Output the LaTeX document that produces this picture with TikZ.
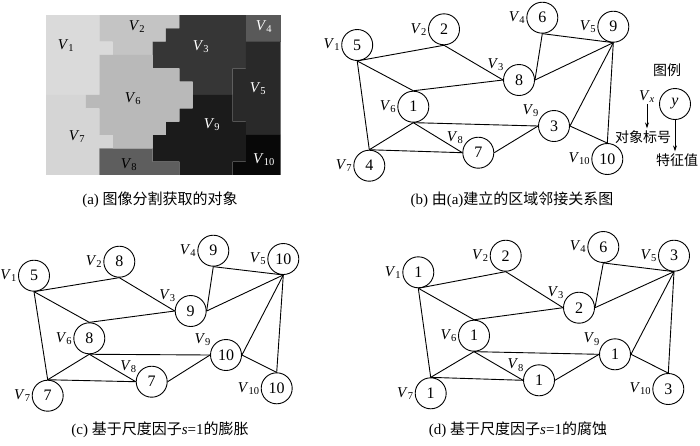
\documentclass[tikz,border=0pt]{standalone}
\usepackage{fontspec}
\setmainfont{Liberation Serif}
\newfontfamily\cjk{Noto Sans CJK SC}
\usetikzlibrary{positioning,arrows.meta}

\definecolor{rOne}{gray}{0.855}
\definecolor{rTwo}{gray}{0.77}
\definecolor{rThree}{gray}{0.21}
\definecolor{rFour}{gray}{0.35}
\definecolor{rFive}{gray}{0.16}
\definecolor{rSix}{gray}{0.725}
\definecolor{rSeven}{gray}{0.835}
\definecolor{rEight}{gray}{0.37}
\definecolor{rNine}{gray}{0.105}
\definecolor{rTen}{gray}{0.03}

\newcommand{\vl}[1]{\textit{V}\textsubscript{#1}}

\tikzset{
  vnode/.style={circle, draw, line width=0.9pt, minimum size=31pt, inner sep=0pt,
    font=\fontsize{16}{16}\selectfont},
  vlab/.style={inner sep=1pt, font=\fontsize{15}{15}\selectfont},
  link/.style={line width=0.9pt},
  captxt/.style={inner sep=2pt, font=\fontsize{14}{16}\selectfont},
  subcap/.style={captxt, font=\fontsize{15}{17}\selectfont},
}

\begin{document}
\begin{tikzpicture}[x=1pt, y=-1pt]
    \useasboundingbox (0,0) rectangle (700,445);

    % Panel (a): regions from the segmentation, on a grid of blocks
    \begin{scope}[shift={(46,15)}, x=13.33pt, y=-13.33pt]
        \def\rim{17.6}
        \fill[rOne] (0,0) -- (4,0) -- (4,2) -- (5,2) -- (5,3) -- (4,3) -- (4,6) -- (0,6) -- cycle;
        \fill[rSeven] (0,6) -- (3,6) -- (3,7) -- (4,7) -- (4,9) -- (5,9) -- (5,10) -- (4,10) -- (4,12) -- (0,12) -- cycle;
        \fill[rTwo] (4,0) -- (10,0) -- (10,1) -- (9,1) -- (9,2) -- (8,2) -- (8,3) -- (5,3) -- (5,2) -- (4,2) -- cycle;
        \fill[rThree] (10,0) -- (15,0) -- (15,4) -- (14,4) -- (14,6) -- (11,6) -- (11,5) -- (10,5) -- (10,4) -- (8,4) -- (8,2) -- (9,2) -- (9,1) -- (10,1) -- cycle;
        \fill[rFour] (15,0) -- (\rim,0) -- (\rim,2) -- (15,2) -- cycle;
        \fill[rFive] (15,2) -- (\rim,2) -- (\rim,9) -- (15,9) -- (15,8) -- (14,8) -- (14,4) -- (15,4) -- cycle;
        \fill[rTen] (15,9) -- (\rim,9) -- (\rim,12) -- (14,12) -- (14,11) -- (15,11) -- cycle;
        \fill[rNine] (11,6) -- (14,6) -- (14,8) -- (15,8) -- (15,11) -- (14,11) -- (14,12) -- (10,12) -- (10,11) -- (8,11) -- (8,9) -- (9,9) -- (9,8) -- (10,8) -- (10,7) -- (11,7) -- cycle;
        \fill[rEight] (4,10) -- (8,10) -- (8,11) -- (10,11) -- (10,12) -- (4,12) -- cycle;
        \fill[rSix] (4,3) -- (8,3) -- (8,4) -- (10,4) -- (10,5) -- (11,5) -- (11,7) -- (10,7) -- (10,8) -- (9,8) -- (9,9) -- (8,9) -- (8,10) -- (5,10) -- (5,9) -- (4,9) -- (4,7) -- (3,7) -- (3,6) -- (4,6) -- cycle;
    \end{scope}

    \foreach \i/\x/\y in {1/66/46, 2/137/27, 6/133/99, 7/77/137, 8/129/165}
        \node[vlab] (la\i) at (\x,\y) {\vl{\i}};
    \foreach \i/\x/\y in {3/201/47, 4/264/27, 5/258/89, 9/212/125, 10/264/160}
        \node[vlab, text=white] (la\i) at (\x,\y) {\vl{\i}};

    % Panels (b), (c), (d): adjacency graphs
    \foreach \i/\x/\y/\n in {1/357.2/45/5, 2/444/29.3/2, 3/519/80/8, 4/542.3/17.7/6, 5/613.3/26.7/9,
                             6/413.3/106.7/1, 7/369.3/165.7/4, 8/478.3/152.7/7, 9/554/126/3, 10/607.3/159/10}
        \node[vnode] (b\i) at (\x,\y) {\n};
    \foreach \i/\x/\y/\n in {1/34/275.7/5, 2/119.3/261.7/8, 3/190.7/311/9, 4/213.3/250.7/9, 5/283.3/259/10,
                             6/89.3/338.3/8, 7/47.7/395.7/7, 8/151.7/381.7/7, 9/226/355/10, 10/276.7/388.3/10}
        \node[vnode] (c\i) at (\x,\y) {\n};
    \foreach \i/\x/\y/\n in {1/418.3/272.3/1, 2/505.7/255.7/2, 3/579/307.7/2, 4/603.3/247/6, 5/674/255.7/3,
                             6/474/335.7/1, 7/430.7/393.3/1, 8/539/380.3/1, 9/615/354.3/1, 10/668.3/389/3}
        \node[vnode] (d\i) at (\x,\y) {\n};

    \foreach \p in {b,c,d} {
        \foreach \i in {1,2,4,5,6,7,10}
            \node[vlab, anchor=east] (\p l\i) at (\p\i.west) {\vl{\i}};
        \foreach \i in {3,8,9}
            \node[vlab, anchor=south east] (\p l\i) at (\p\i.150) {\vl{\i}};
        \foreach \u/\ua/\v/\va in {1/south/2/south, 1/south/6/north, 1/south/7/north, 2/south/3/west,
                                   6/north/3/west, 4/south/3/east, 4/south/5/south, 3/east/5/south,
                                   5/south/9/east, 5/south/10/north, 6/south/9/west, 6/south/7/north,
                                   6/south/8/west, 7/north/8/west, 8/east/9/west, 9/east/10/north}
            \draw[link] (\p\u.\ua) -- (\p\v.\va);
    }

    % Legend
    \node[captxt] (lgd) at (667,70) {\cjk 图例};
    \node[vnode] (ly) at (675,104) {\textit{y}};
    \node[vlab] (lvx) at (647,97) {\textit{V}\textsubscript{\textit{x}}};
    \node[captxt] (lid) at (643,137) {\cjk 对象标号};
    \node[captxt] (lval) at (677,160) {\cjk 特征值};
    \draw[link, -{Stealth[length=6pt, width=4pt]}] (lvx.south) -- (lvx.south |- lid.north);
    \draw[link, -{Stealth[length=6pt, width=4pt]}] (ly.south) -- (ly.south |- lval.north);

    % Captions
    \node[subcap] (capa) at (160,200) {(a) {\cjk 图像分割获取的对象}};
    \node[subcap] (capb) at (512,200) {(b) {\cjk 由}(a){\cjk 建立的区域邻接关系图}};
    \node[subcap] (capc) at (160,430) {(c) {\cjk 基于尺度因子}\textit{s}=1{\cjk 的膨胀}};
    \node[subcap] (capd) at (518,430) {(d) {\cjk 基于尺度因子}\textit{s}=1{\cjk 的腐蚀}};

\end{tikzpicture}
\end{document}
